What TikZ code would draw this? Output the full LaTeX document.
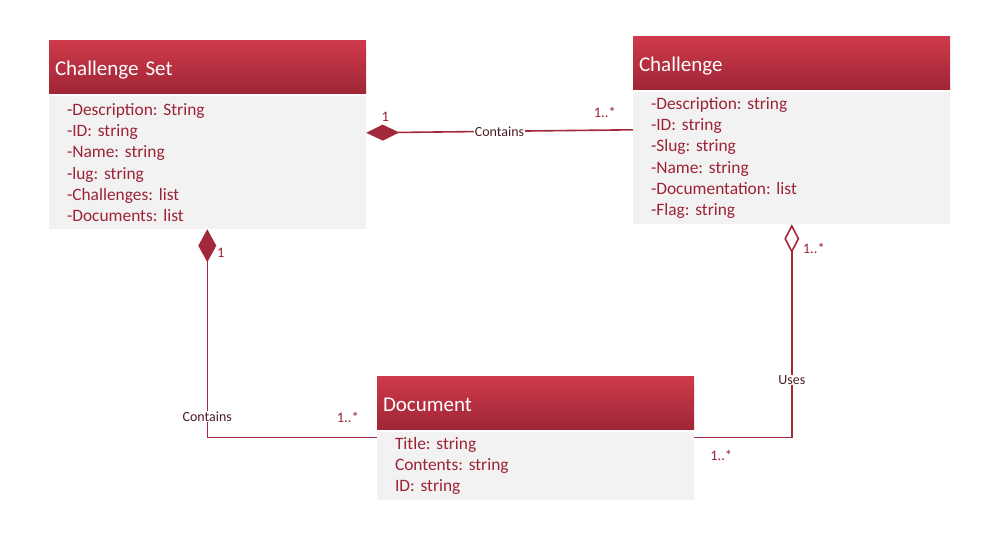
\documentclass[tikz,border=0pt]{standalone}
\usepackage{fontspec}
\setmainfont{Carlito}
\frenchspacing
\usetikzlibrary{arrows.meta,calc}
\definecolor{hdrtop}{HTML}{CF3A4B}
\definecolor{hdrbot}{HTML}{9F2636}
\definecolor{bodyfill}{HTML}{F2F2F2}
\definecolor{txtred}{HTML}{9B2335}
\definecolor{linered}{HTML}{A3293A}
\definecolor{lbldark}{HTML}{4B1E26}
\tikzset{
  hdr/.style={rectangle, top color=hdrtop, bottom color=hdrbot, draw=none,
    minimum width=317pt, minimum height=53pt, inner xsep=6pt, inner ysep=0pt,
    text width=305pt, align=left, text=white, text height=20pt, text depth=3pt,
    font=\fontsize{21}{25}\selectfont\frenchspacing},
  classbody/.style={rectangle, fill=bodyfill, draw=none,
    minimum width=317pt, inner xsep=18pt, inner ysep=0pt,
    text width=281pt, align=left, text=txtred,
    font=\fontsize{17.4}{21.2}\selectfont\frenchspacing},
  conn/.style={draw=linered, line width=1.6pt},
  lbl/.style={fill=white, text=lbldark, inner sep=0.5pt, font=\fontsize{14}{16}\selectfont},
  mult/.style={text=txtred, inner sep=0pt, font=\fontsize{14.5}{16}\selectfont},
}
\begin{document}
\begin{tikzpicture}[x=1pt,y=-1pt]
\useasboundingbox[fill=white] (0,0) rectangle (998,558);

% Challenge Set
\node[hdr] (csH) at (207.5,66.5) {Challenge Set};
\node[classbody, minimum height=133pt] (csB) at (207.5,162.5)
  {-Description: String\\-ID: string\\-Name: string\\-lug: string\\-Challenges: list\\-Documents: list};

% Challenge
\node[hdr] (chH) at (791.5,62.5) {Challenge};
\node[classbody, minimum height=132pt] (chB) at (791.5,158)
  {-Description: string\\-ID: string\\-Slug: string\\-Name: string\\-Documentation: list\\-Flag: string};

% Document
\node[hdr] (dH) at (535.5,402.5) {Document};
\node[classbody, minimum height=68pt] (dB) at (535.5,466)
  {Title: string\\Contents: string\\ID: string};

% Connectors
\draw[conn, {Diamond[length=33pt,width=16pt,fill=linered]}-]
  ([yshift=-37pt]csB.north east) -- node[lbl] (c1) {Contains} ([yshift=-38pt]chB.north west);

\draw[conn, {Diamond[length=33pt,width=18pt,fill=linered]}-]
  ([xshift=158.5pt]csB.south west) |- node[lbl, pos=0.45] (c2) {Contains} ([yshift=-5.5pt]dB.north west);

\draw[conn, {Diamond[open,length=29pt,width=15pt,fill=white]}-]
  ([xshift=159pt]chB.south west) |- node[lbl, pos=0.365] (c3) {Uses} ([yshift=-5.5pt]dB.north east);

% Multiplicities
\node[mult] (m1) at ([xshift=19pt,yshift=-21pt]csB.north east) {1};
\node[mult] (m2) at ([xshift=-28pt,yshift=-21pt]chB.north west) {1..*};
\node[mult] (m3) at ([xshift=172pt,yshift=-24pt]csB.south west) {1};
\node[mult] (m4) at ([xshift=-29pt,yshift=14pt]dB.north west) {1..*};
\node[mult] (m5) at ([xshift=181pt,yshift=-24pt]chB.south west) {1..*};
\node[mult] (m6) at ([xshift=27pt,yshift=-24pt]dB.north east) {1..*};
\end{tikzpicture}
\end{document}
